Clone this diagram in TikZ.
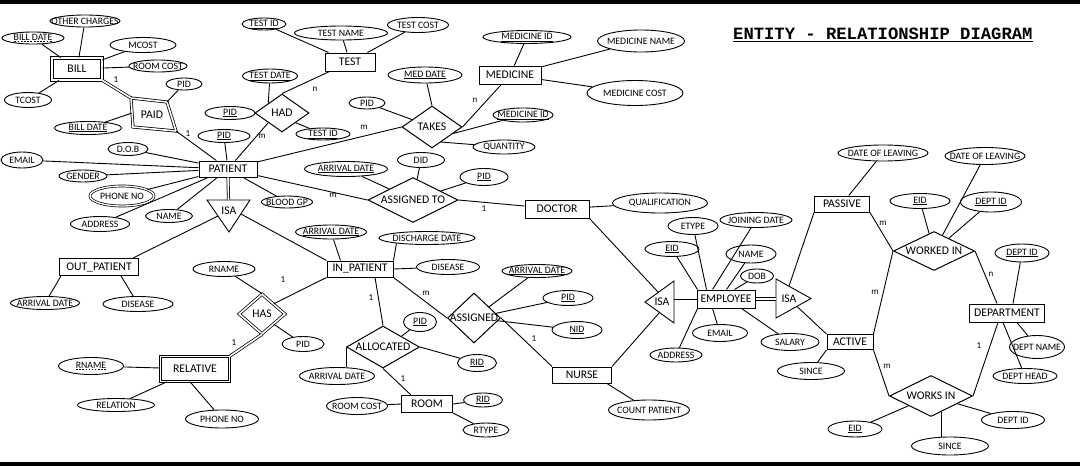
\documentclass[tikz,border=0pt]{standalone}
\usepackage{fontspec}
\setmainfont{Carlito}
\newfontfamily\titlefont{Liberation Mono}
\usetikzlibrary{shapes.geometric,calc}
\newcommand\zz[1]{\makebox[0pt][c]{#1}}
\newcommand\myul[1]{\setbox0\hbox{#1}\vtop{\copy0\kern1.2pt\hrule height 0.55pt width \wd0}}
\newcommand\mydul[1]{\setbox0\hbox{#1}\vtop{\copy0\kern1.2pt\nointerlineskip\hbox to \wd0{\xleaders\hbox to 3pt{\hss\vrule height 0.8pt depth 0pt width 1.8pt\hss}\hfil}}}
\newcommand\titleul[1]{\setbox0\hbox{#1}\vtop{\copy0\kern1.6pt\hrule height 0.7pt width \wd0}}
\begin{document}
\begin{tikzpicture}[x=1pt,y=-1pt,
  ent/.style={draw, rectangle, line width=1pt, inner sep=0pt, font=\fontsize{11.7}{12}\selectfont},
  attr/.style={draw, ellipse, line width=0.9pt, inner sep=0pt, font=\fontsize{9.8}{10}\selectfont},
  rel/.style={draw, diamond, line width=1pt, inner sep=0pt, font=\fontsize{11.7}{12}\selectfont},
  card/.style={font=\fontsize{9}{10}\selectfont, inner sep=0pt},
  isatext/.style={font=\fontsize{11.7}{12}\selectfont, inner sep=0pt},
  ln/.style={line width=0.9pt},
  dbl/.style={double, double distance=1.6pt, line width=0.75pt},
  sz/.style 2 args={minimum width=#1, minimum height=#2}]
\useasboundingbox (0,0) rectangle (1080,466);
\fill[white] (0,0) rectangle (1080,466);
\fill[black] (0,0) rectangle (1080,4);
\fill[black] (0,462) rectangle (1080,466);

% title
\node[font=\titlefont\bfseries\fontsize{17.2}{18}\selectfont, inner sep=0pt, anchor=base west] (title) at (733,39.5) {\titleul{ENTITY - RELATIONSHIP DIAGRAM}};

% ---------- BILL ----------
\node[ent,dbl,sz={50}{22}] (bill) at (77,69) {\zz{BILL}};
\node[attr,sz={70}{12}] (oc) at (85,21) {\zz{OTHER CHARGES}};
\node[attr,sz={62}{12}] (bd1) at (33,38) {\zz{\mydul{BILL DATE}}};
\node[attr,sz={66}{15}] (mcost) at (143,45) {\zz{MCOST}};
\node[attr,sz={58}{12}] (rc1) at (158,66) {\zz{ROOM COST}};
\node[attr,sz={47}{15}] (tcost) at (28,100) {\zz{TCOST}};
% PAID (tilted weak relationship)
\coordinate (p1) at (131,98);
\coordinate (p2) at (167,102);
\coordinate (p3) at (176,131);
\coordinate (p4) at (133,127);
\coordinate (pl) at (132,113);
\draw[dbl] (p1) -- (p2) -- (p3) -- (p4) -- cycle;
\node[font=\fontsize{11.7}{12}\selectfont, inner sep=0pt] (paid) at (152,115) {PAID};
\node[attr,sz={36}{12}] (pid1) at (184,84) {\zz{PID}};
\node[attr,sz={67}{13}] (bd2) at (88,128) {\zz{\myul{BILL DATE}}};

% ---------- PATIENT ----------
\node[ent,sz={58}{16}] (patient) at (228,169) {\zz{PATIENT}};
\node[attr,sz={50}{13}] (pid2) at (230,113) {\zz{\myul{PID}}};
\node[attr,sz={52}{13}] (pid3) at (224,136) {\zz{\myul{PID}}};
\node[attr,sz={40}{13}] (dob) at (128,149) {\zz{D.O.B}};
\node[attr,sz={42}{16}] (email) at (22,160) {\zz{EMAIL}};
\node[attr,sz={48}{12}] (gender) at (83,176) {\zz{GENDER}};
\node[attr,double,double distance=1.3pt,line width=0.7pt,sz={64}{20}] (phone) at (122,196) {\zz{PHONE NO}};
\node[attr,sz={59}{15}] (address) at (100,224) {\zz{ADDRESS}};
\node[attr,sz={47}{13}] (pname) at (169,216) {\zz{NAME}};
\node[attr,sz={51}{12}] (blood) at (287,202) {\zz{BLOOD GP}};

% ---------- TEST / HAD ----------
\node[attr,sz={44}{12}] (tid1) at (264,24) {\zz{\myul{TEST ID}}};
\node[attr,sz={93}{14}] (tname) at (341,33) {\zz{TEST NAME}};
\node[attr,sz={61}{15}] (tcost2) at (418,25) {\zz{TEST COST}};
\node[ent,sz={50}{18}] (test) at (350,62) {\zz{TEST}};
\node[attr,sz={55}{14}] (tdate) at (270,76) {\zz{\myul{TEST DATE}}};
\node[rel,sz={54}{38}] (had) at (282,113) {\zz{HAD}};
\node[attr,sz={54}{12}] (tid2) at (323,134) {\zz{\myul{TEST ID}}};

% ---------- TAKES / MEDICINE ----------
\node[attr,sz={36}{12}] (pid4) at (367,103) {\zz{PID}};
\node[attr,sz={74}{16}] (mdate) at (425,75) {\zz{\myul{MED DATE}}};
\node[rel,sz={60}{42}] (takes) at (432,127) {\zz{TAKES}};
\node[ent,sz={62}{18}] (medicine) at (510,75) {\zz{MEDICINE}};
\node[attr,sz={88}{13}] (mid1) at (527,37) {\zz{\myul{MEDICINE ID}}};
\node[attr,sz={60}{14}] (mid2) at (523,115) {\zz{\myul{MEDICINE ID}}};
\node[attr,sz={62}{14}] (qty) at (504,147) {\zz{QUANTITY}};
\node[attr,sz={87}{22}] (mname) at (641,41) {\zz{MEDICINE NAME}};
\node[attr,sz={96}{25}] (mcost2) at (635,93) {\zz{MEDICINE COST}};

% ---------- ASSIGNED TO / DOCTOR ----------
\node[attr,sz={83}{15}] (ad1) at (346,169) {\zz{\myul{ARRIVAL DATE}}};
\node[attr,sz={47}{15}] (did) at (421,160) {\zz{DID}};
\node[attr,sz={48}{17}] (pid5) at (484,177) {\zz{\myul{PID}}};
\node[rel,sz={90}{45}] (asto) at (413,200) {\zz{ASSIGNED TO}};
\node[ent,sz={64}{18}] (doctor) at (557,209) {\zz{DOCTOR}};
\node[attr,sz={95}{20}] (qual) at (660,203) {\zz{QUALIFICATION}};

% ---------- ISA (patient) ----------
\coordinate (i1a) at (207,200);
\coordinate (i1b) at (250,200);
\coordinate (i1c) at (229,232);
\coordinate (i1top) at (228.5,200);
\coordinate (i1l) at (218,216);
\coordinate (i1r) at (241,214);
\draw[ln] (i1a) -- (i1b) -- (i1c) -- cycle;
\node[isatext] (isa1) at (229,211) {ISA};

% ---------- OUT / IN PATIENT ----------
\node[ent,sz={79}{17}] (outp) at (99,267) {\zz{OUT\_PATIENT}};
\node[attr,sz={69}{13}] (ad2) at (45,303) {\zz{ARRIVAL DATE}};
\node[attr,sz={70}{15}] (dis1) at (138,304) {\zz{DISEASE}};
\node[ent,sz={66}{16}] (inp) at (360,269) {\zz{IN\_PATIENT}};
\node[attr,sz={71}{14}] (ad3) at (331,232) {\zz{\myul{ARRIVAL DATE}}};
\node[attr,sz={96}{13}] (ddate) at (427,238) {\zz{DISCHARGE DATE}};
\node[attr,sz={63}{15}] (dis2) at (448,267) {\zz{DISEASE}};

% ---------- HAS / RELATIVE ----------
\node[rel,dbl,sz={46}{40}] (has) at (262,314) {\zz{HAS}};
\node[attr,sz={62}{15}] (rname1) at (224,269) {\zz{RNAME}};
\node[attr,sz={42}{15}] (pid6) at (303,344) {\zz{PID}};
\node[ent,dbl,sz={69}{25}] (relative) at (195,369) {\zz{RELATIVE}};
\node[attr,sz={65}{17}] (rname2) at (91,366) {\zz{\mydul{RNAME}}};
\node[attr,sz={77}{13}] (relation) at (116,405) {\zz{RELATION}};
\node[attr,sz={73}{18}] (phone2) at (222,419) {\zz{PHONE NO}};

% ---------- ALLOCATED / ROOM ----------
\node[rel,sz={73}{42}] (alloc) at (383,347) {\zz{ALLOCATED}};
\node[attr,sz={33}{19}] (pid7) at (420,322) {\zz{\myul{PID}}};
\node[attr,sz={39}{17}] (rid1) at (477,363) {\zz{\myul{RID}}};
\node[attr,sz={75}{17}] (ad4) at (337,376) {\zz{ARRIVAL DATE}};
\node[ent,sz={51}{17}] (room) at (427,404) {\zz{ROOM}};
\node[attr,sz={61}{17}] (rc2) at (357,406) {\zz{ROOM COST}};
\node[attr,sz={39}{14}] (rid2) at (483,400) {\zz{\myul{RID}}};
\node[attr,sz={46}{14}] (rtype) at (486,430) {\zz{RTYPE}};

% ---------- ASSIGNED / NURSE ----------
\node[rel,sz={53}{50}] (asg) at (474,318) {\zz{ASSIGNED}};
\node[attr,sz={70}{13}] (ad5) at (537,271) {\zz{\myul{ARRIVAL DATE}}};
\node[attr,sz={50}{15}] (pid8) at (568,298) {\zz{\myul{PID}}};
\node[attr,sz={50}{17}] (nid) at (577,330) {\zz{\myul{NID}}};
\node[ent,sz={59}{16}] (nurse) at (582,375) {\zz{NURSE}};
\node[attr,sz={81}{20}] (count) at (649,410) {\zz{COUNT PATIENT}};

% ---------- ISA (employee) ----------
\coordinate (i2a) at (645,302);
\coordinate (i2b) at (674,281);
\coordinate (i2c) at (674,323);
\coordinate (i2u) at (658,292);
\coordinate (i2l) at (659.5,312.5);
\coordinate (i2r) at (674,299);
\draw[ln] (i2a) -- (i2b) -- (i2c) -- cycle;
\node[isatext] (isa2) at (662,302) {ISA};

% ---------- EMPLOYEE ----------
\node[ent,sz={58}{18}] (emp) at (726,299) {\zz{EMPLOYEE}};
\node[attr,sz={54}{15}] (eid1) at (672,249) {\zz{\myul{EID}}};
\node[attr,sz={50}{17}] (etype) at (693,226) {\zz{ETYPE}};
\node[attr,sz={72}{15}] (jdate) at (756,220) {\zz{JOINING DATE}};
\node[attr,sz={50}{18}] (ename) at (751,254) {\zz{NAME}};
\node[attr,sz={33}{14}] (edob) at (757,276) {\zz{DOB}};
\node[attr,sz={55}{17}] (eemail) at (720,333) {\zz{EMAIL}};
\node[attr,sz={52}{14}] (eaddr) at (676,355) {\zz{ADDRESS}};
\node[attr,sz={58}{17}] (salary) at (790,342) {\zz{SALARY}};

% ---------- ISA (active/passive) ----------
\coordinate (i3a) at (776,279);
\coordinate (i3b) at (776,318);
\coordinate (i3c) at (811,298.5);
\coordinate (i3l) at (776,299);
\coordinate (i3u) at (789,286);
\coordinate (i3d) at (797,306.5);
\draw[ln] (i3a) -- (i3c) -- (i3b) -- cycle;
\node[isatext] (isa3) at (789,299) {ISA};

% ---------- PASSIVE / ACTIVE / DEPARTMENT ----------
\node[ent,sz={55}{16}] (passive) at (842,204) {\zz{PASSIVE}};
\node[ent,sz={46}{15}] (active) at (850,342) {\zz{ACTIVE}};
\node[attr,sz={67}{17}] (since1) at (811,371) {\zz{SINCE}};
\node[attr,sz={90}{16}] (dol1) at (883,153) {\zz{DATE OF LEAVING}};
\node[attr,sz={80}{17}] (dol2) at (985,156) {\zz{DATE OF LEAVING}};
\node[attr,sz={60}{15}] (eid2) at (920,201) {\zz{\myul{EID}}};
\node[attr,sz={61}{20}] (dept1) at (991,202) {\zz{\myul{DEPT ID}}};
\node[rel,sz={81}{39}] (workedin) at (934,251) {\zz{WORKED IN}};
\node[attr,sz={54}{18}] (dept2) at (1022,253) {\zz{\myul{DEPT ID}}};
\node[ent,sz={75}{18}] (dept) at (1007,313) {\zz{DEPARTMENT}};
\node[attr,sz={55}{23}] (dname) at (1037,347) {\zz{DEPT NAME}};
\node[attr,sz={64}{15}] (dhead) at (1025,376) {\zz{DEPT HEAD}};
\node[rel,sz={83}{41}] (worksin) at (931,396) {\zz{WORKS IN}};
\node[attr,sz={54}{16}] (eid3) at (855,429) {\zz{\myul{EID}}};
\node[attr,sz={77}{18}] (since2) at (950,446) {\zz{SINCE}};
\node[attr,sz={63}{17}] (dept3) at (1013,420) {\zz{DEPT ID}};

% ================= CONNECTORS =================
% bill
\draw[ln] (bill) -- (oc);
\draw[ln] (bill) -- (bd1);
\draw[ln] (bill) -- (mcost);
\draw[ln] (bill) -- (rc1);
\draw[ln] (bill) -- (tcost);
\draw[dbl] (bill.south east) -- (p1);
\draw[ln] (p2) -- (pid1);
\draw[ln] (pl) -- (bd2);
\draw[ln] (p3) -- (patient);
% patient attributes
\draw[ln] (patient) -- (dob);
\draw[ln] (patient) -- (email);
\draw[ln] (patient) -- (gender);
\draw[ln] (patient) -- (phone);
\draw[ln] (patient) -- (address);
\draw[ln] (patient) -- (pname);
\draw[ln] (patient) -- (pid3);
\draw[ln] (patient) -- (blood);
\draw[ln] (patient) -- (had.south west);
\draw[ln] (patient) -- (takes.west);
\draw[ln] (patient) -- (asto.west);
\draw[dbl] (patient.south) -- (i1top);
% had / test
\draw[ln] (pid2) -- (had.west);
\draw[ln] (had.north west) -- (tdate);
\draw[ln] (had.north) -- (test);
\draw[ln] (had.south east) -- (tid2);
\draw[ln] (test) -- (tid1);
\draw[ln] (test) -- (tname);
\draw[ln] (test) -- (tcost2);
% takes / medicine
\draw[ln] (takes) -- (pid4);
\draw[ln] (takes.north) -- (mdate);
\draw[ln] (takes.east) -- (medicine);
\draw[ln] ($(takes.east)!0.3!(takes.south)$) -- (mid2);
\draw[ln] ($(takes.south)!0.3!(takes.east)$) -- (qty);
\draw[ln] (medicine) -- (mid1);
\draw[ln] (medicine) -- (mname);
\draw[ln] (medicine) -- (mcost2);
% assigned to / doctor
\draw[ln] (asto) -- (ad1);
\draw[ln] (asto) -- (did);
\draw[ln] (asto) -- (pid5);
\draw[ln] (asto.east) -- (doctor);
\draw[ln] (doctor) -- (qual);
\draw[ln] (doctor.south east) -- (i2u);
% isa patient
\draw[ln] (i1l) -- ([xshift=-6]outp.north east);
\draw[ln] (i1r) -- (inp.north west);
\draw[ln] ([xshift=2]outp.south west) -- (ad2);
\draw[ln] ([xshift=-18]outp.south east) -- (dis1);
% in patient
\draw[ln] ([xshift=14]inp.north west) -- (ad3);
\draw[ln] (inp.north east) -- (ddate.190);
\draw[ln] (inp.east) -- (dis2);
\draw[ln] (has.north east) -- (inp.south west);
\draw[ln] ([xshift=15]inp.south) -- (alloc.north);
\draw[ln] (inp.south east) -- (asg.west);
% has / relative
\draw[ln] (has.north) -- (rname1);
\draw[ln] (has.south east) -- (pid6);
\draw[dbl] (has.south) -- (relative.north east);
\draw[ln] (relative) -- (rname2);
\draw[ln] (relative) -- (relation);
\draw[ln] ([xshift=30]relative.south west) -- (phone2);
% allocated / room
\draw[ln] (alloc.north east) -- (pid7);
\draw[ln] (alloc.east) -- (rid1);
\draw[ln] (alloc.west) -- (alloc.west |- ad4.north);
\draw[ln] (alloc.south) -- ([xshift=10]room.north west);
\draw[ln] (room.west) -- (rc2);
\draw[ln] (room.east) -- (rid2);
\draw[ln] (room.south east) -- (rtype);
% assigned / nurse
\draw[ln] (asg) -- (ad5);
\draw[ln] (asg) -- (pid8);
\draw[ln] (asg) -- (nid);
\draw[ln] (asg.east) -- (nurse.north west);
\draw[ln] ([xshift=-5]nurse.south east) -- (count);
\draw[ln] (nurse.north east) -- (i2l);
% employee
\draw[ln] (i2r) -- (emp.west);
\draw[ln] (eid1) -- ([xshift=1]emp.north west);
\draw[ln] (etype) -- ([xshift=10]emp.north west);
\draw[ln] (jdate) -- ([xshift=16]emp.north west);
\draw[ln] (ename) -- ([xshift=30]emp.north west);
\draw[ln] (edob) -- ([xshift=38]emp.north west);
\draw[ln] (eemail) -- ([xshift=16]emp.south west);
\draw[ln] (eaddr) -- ([xshift=1]emp.south west);
\draw[ln] (salary) -- ([xshift=45]emp.south west);
\draw[dbl] (emp.east) -- (i3l);
% active / passive
\draw[ln] (i3u) -- (passive.south west);
\draw[ln] (i3d) -- (active.north west);
\draw[ln] (active.south west) -- (since1);
\draw[ln] (passive) -- (dol1);
\draw[ln] (passive.south east) -- (workedin.west);
\draw[ln] (active.north east) -- (workedin.west);
\draw[ln] (active.south east) -- (worksin.west);
% worked in
\draw[ln] (workedin) -- (eid2);
\draw[ln] (workedin) -- (dol2);
\draw[ln] (workedin) -- (dept1);
\draw[ln] (workedin.east) -- ([xshift=28]dept.north west);
% department
\draw[ln] ([xshift=44]dept.north west) -- (dept2);
\draw[ln] ([xshift=48]dept.south west) -- (dname);
\draw[ln] ([xshift=34]dept.south west) -- (dhead);
\draw[ln] ([xshift=29]dept.south west) -- (worksin.east);
% works in
\draw[ln] (worksin) -- (eid3);
\draw[ln] ($(worksin.south)!0.25!(worksin.east)$) coordinate (wsp) -- (wsp |- since2.north);
\draw[ln] (worksin) -- (dept3);

% cardinalities
\node[card] (c1) at (116,80) {1};
\node[card] (c2) at (188,134) {1};
\node[card] (c3) at (262,136) {m};
\node[card] (c4) at (315,89) {n};
\node[card] (c5) at (364,127) {m};
\node[card] (c6) at (475,100) {n};
\node[card] (c7) at (333,195) {m};
\node[card] (c8) at (484,209) {1};
\node[card] (c9) at (283,280) {1};
\node[card] (c10) at (371,298) {1};
\node[card] (c11) at (426,293) {m};
\node[card] (c12) at (234,343) {1};
\node[card] (c13) at (403,379) {1};
\node[card] (c14) at (534,339) {1};
\node[card] (c15) at (883,223) {m};
\node[card] (c16) at (991,274) {n};
\node[card] (c17) at (875,292) {m};
\node[card] (c18) at (887,366) {m};
\node[card] (c19) at (979,346) {1};
\end{tikzpicture}
\end{document}
